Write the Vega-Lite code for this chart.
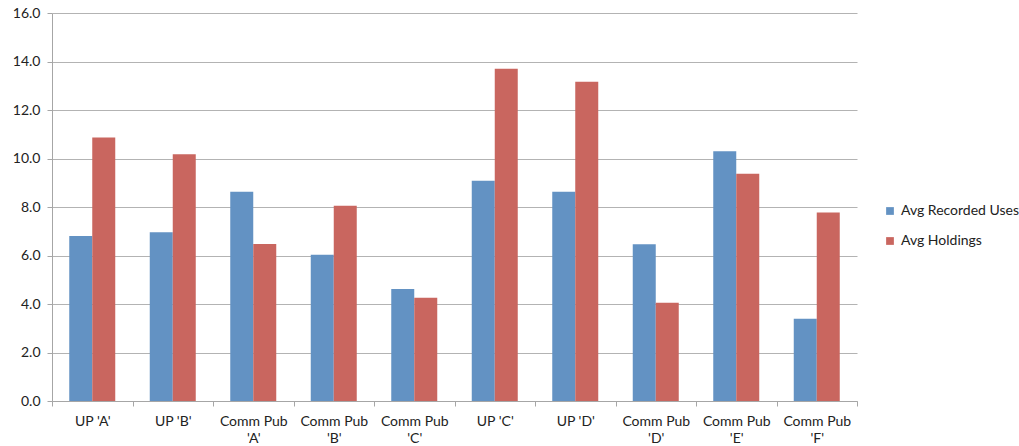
{
  "$schema": "https://vega.github.io/schema/vega-lite/v6.json",
  "width": 805,
  "height": 388,
  "autosize": "none",
  "padding": {"left": 52, "top": 13, "right": 162, "bottom": 45},
  "background": "white",
  "config": {
    "view": {"stroke": null},
    "font": "Lato",
    "axis": {"labelFont": "Lato", "labelFontSize": 14, "labelColor": "#222222"},
    "legend": {"labelFont": "Lato", "labelFontSize": 14, "labelColor": "#222222"}
  },
  "data": {
    "values": [
      {"category": "UP 'A'", "series": "Avg Recorded Uses", "value": 6.80},
      {"category": "UP 'A'", "series": "Avg Holdings", "value": 10.87},
      {"category": "UP 'B'", "series": "Avg Recorded Uses", "value": 6.96},
      {"category": "UP 'B'", "series": "Avg Holdings", "value": 10.18},
      {"category": "Comm Pub 'A'", "series": "Avg Recorded Uses", "value": 8.63},
      {"category": "Comm Pub 'A'", "series": "Avg Holdings", "value": 6.47},
      {"category": "Comm Pub 'B'", "series": "Avg Recorded Uses", "value": 6.03},
      {"category": "Comm Pub 'B'", "series": "Avg Holdings", "value": 8.05},
      {"category": "Comm Pub 'C'", "series": "Avg Recorded Uses", "value": 4.62},
      {"category": "Comm Pub 'C'", "series": "Avg Holdings", "value": 4.26},
      {"category": "UP 'C'", "series": "Avg Recorded Uses", "value": 9.08},
      {"category": "UP 'C'", "series": "Avg Holdings", "value": 13.70},
      {"category": "UP 'D'", "series": "Avg Recorded Uses", "value": 8.63},
      {"category": "UP 'D'", "series": "Avg Holdings", "value": 13.16},
      {"category": "Comm Pub 'D'", "series": "Avg Recorded Uses", "value": 6.46},
      {"category": "Comm Pub 'D'", "series": "Avg Holdings", "value": 4.05},
      {"category": "Comm Pub 'E'", "series": "Avg Recorded Uses", "value": 10.30},
      {"category": "Comm Pub 'E'", "series": "Avg Holdings", "value": 9.37},
      {"category": "Comm Pub 'F'", "series": "Avg Recorded Uses", "value": 3.39},
      {"category": "Comm Pub 'F'", "series": "Avg Holdings", "value": 7.77}
    ]
  },
  "mark": {"type": "bar"},
  "encoding": {
    "x": {
      "field": "category",
      "type": "nominal",
      "sort": null,
      "scale": {"paddingInner": 0, "paddingOuter": 0},
      "axis": {
        "title": null,
        "labelAngle": 0,
        "tickBand": "extent",
        "domainColor": "#a6a6a6",
        "tickColor": "#a6a6a6",
        "tickSize": 5,
        "labelPadding": 8,
        "labelLineHeight": 17,
        "labelExpr": "indexof(datum.label, 'Comm Pub') == 0 ? ['Comm Pub', substring(datum.label, 9)] : datum.label"
      }
    },
    "xOffset": {
      "field": "series",
      "type": "nominal",
      "sort": ["Avg Recorded Uses", "Avg Holdings"],
      "scale": {"paddingOuter": 0.75, "paddingInner": 0}
    },
    "y": {
      "field": "value",
      "type": "quantitative",
      "scale": {"domain": [0, 16], "nice": false},
      "axis": {
        "title": null,
        "values": [0, 2, 4, 6, 8, 10, 12, 14, 16],
        "format": ".1f",
        "gridColor": "#b3b3b3",
        "domainColor": "#a6a6a6",
        "tickColor": "#a6a6a6",
        "tickSize": 5,
        "labelPadding": 7
      }
    },
    "color": {
      "field": "series",
      "type": "nominal",
      "sort": ["Avg Recorded Uses", "Avg Holdings"],
      "scale": {"domain": ["Avg Recorded Uses", "Avg Holdings"], "range": ["#6392c3", "#c9665f"]},
      "legend": {
        "title": null,
        "orient": "none",
        "legendX": 831,
        "legendY": 191,
        "padding": 0,
        "symbolType": "square",
        "symbolSize": 60,
        "symbolStrokeWidth": 0,
        "labelOffset": 4,
        "rowPadding": 16
      }
    }
  }
}
